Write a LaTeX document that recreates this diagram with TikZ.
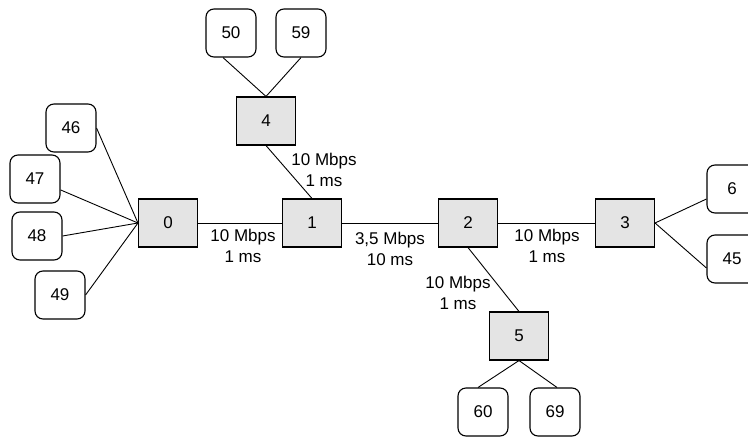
\documentclass[tikz,border=0pt]{standalone}
\usepackage{fontspec}
\setmainfont{Liberation Sans}
\definecolor{routerfill}{RGB}{228,228,228}
\begin{document}
\begin{tikzpicture}[x=1pt,y=-1pt,
  every node/.style={font=\fontsize{17}{21}\selectfont},
  router/.style={draw, line width=1.1pt, fill=routerfill, minimum width=59pt, minimum height=48pt, inner sep=0pt},
  host/.style={draw, line width=1.1pt, rounded corners=8pt, minimum width=50pt, minimum height=48pt, inner sep=0pt},
  link/.style={line width=0.9pt},
  linklabel/.style={align=center, inner sep=0pt}]
\useasboundingbox (0,0) rectangle (748,437);

% routers
\node[router] (r0) at (168,223) {0};
\node[router] (r1) at (312,223) {1};
\node[router] (r2) at (468,223) {2};
\node[router] (r3) at (625,223) {3};
\node[router] (r4) at (266,121) {4};
\node[router] (r5) at (519,336) {5};

% hosts
\node[host] (h46) at (71,128) {46};
\node[host] (h47) at (35,179) {47};
\node[host] (h48) at (37,236) {48};
\node[host] (h49) at (60,295) {49};
\node[host] (h50) at (231,33) {50};
\node[host] (h59) at (301,33) {59};
\node[host] (h6)  at (732,189) {6};
\node[host] (h45) at (732,259) {45};
\node[host] (h60) at (483,412) {60};
\node[host] (h69) at (555,412) {69};

% backbone links
\draw[link] (r0) -- (r1);
\draw[link] (r1) -- (r2);
\draw[link] (r2) -- (r3);
\draw[link] (r4.south) -- (r1.north);
\draw[link] (r2.south) -- (r5.north);

% access links
\draw[link] (h46.east) -- (r0.west);
\draw[link] (h47) -- (r0.west);
\draw[link] (h48.east) -- (r0.west);
\draw[link] (h49.east) -- (r0.west);
\draw[link] ([xshift=-8pt]h50.south) -- (r4.north);
\draw[link] (h59.south) -- (r4.north);
\draw[link] (r3.east) -- ([yshift=-10pt]h6.west);
\draw[link] (r3.east) -- ([yshift=-9pt]h45.west);
\draw[link] (r5.south) -- ([xshift=-5pt]h60.north);
\draw[link] (r5.south) -- ([xshift=2pt]h69.north);

% link parameters
\node[linklabel] (l01) at (243,246) {10 Mbps\\1 ms};
\node[linklabel] (l14) at (324,170) {10 Mbps\\1 ms};
\node[linklabel] (l12) at (390,249) {3,5 Mbps\\10 ms};
\node[linklabel] (l23) at (547,246) {10 Mbps\\1 ms};
\node[linklabel] (l25) at (458,293) {10 Mbps\\1 ms};
\end{tikzpicture}
\end{document}
